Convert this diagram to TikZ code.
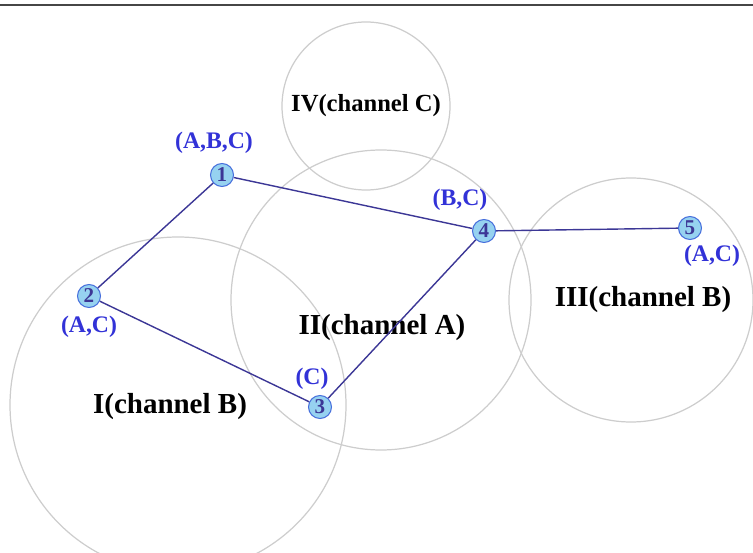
\documentclass[tikz,border=0pt]{standalone}
\usepackage{fontspec}
\setmainfont{Liberation Serif}
\begin{document}
\begin{tikzpicture}[x=0.02cm, y=-0.02cm,
  zone/.style={draw=zonegray, line width=0.7pt},
  zonelabel/.style={font=\fontsize{16.5}{18}\selectfont\bfseries, text=black},
  station/.style={circle, draw=stationblue, fill=stationfill, line width=0.6pt, minimum size=0.46cm, inner sep=0pt, font=\fontsize{12}{13}\selectfont\bfseries, text=linkblue},
  chanlabel/.style={font=\fontsize{13.5}{14}\selectfont\bfseries, text=labelblue},
  link/.style={draw=linkblue, line width=0.8pt}]

\definecolor{zonegray}{RGB}{205,205,205}
\definecolor{stationblue}{RGB}{70,110,220}
\definecolor{stationfill}{RGB}{150,210,240}
\definecolor{linkblue}{RGB}{60,55,150}
\definecolor{labelblue}{RGB}{50,50,215}
\definecolor{rulegray}{RGB}{70,70,70}

\useasboundingbox (0,0) rectangle (753,553);
\coordinate (ruleleft) at (0,5);
\coordinate (ruleright) at (753,5);
\draw[rulegray, line width=1.2pt] (ruleleft) -- (ruleright);

% interference zones
\draw[zone] (366,106) circle (84);
\draw[zone] (381,300) circle (150);
\draw[zone] (178,405) circle (168);
\draw[zone] (631,300) circle (122);

\node[zonelabel, font=\fontsize{14}{15}\selectfont\bfseries] (zoneIV) at (366,106) {IV(channel C)};
\node[zonelabel] (zoneII) at (382,328) {II(channel A)};
\node[zonelabel] (zoneIII) at (643,300) {III(channel B)};
\node[zonelabel] (zoneI) at (170,407) {I(channel B)};

% stations
\node[station] (s1) at (222,175) {1};
\node[station] (s2) at (89,296) {2};
\node[station] (s3) at (320,407) {3};
\node[station] (s4) at (484,231) {4};
\node[station] (s5) at (690,228) {5};

\draw[link] (s1) -- (s2);
\draw[link] (s1) -- (s4);
\draw[link] (s2) -- (s3);
\draw[link] (s3) -- (s4);
\draw[link] (s4) -- (s5);

\node[chanlabel] (c1) at (214,143) {(A,B,C)};
\node[chanlabel] (c2) at (89,327) {(A,C)};
\node[chanlabel] (c3) at (312,379) {(C)};
\node[chanlabel] (c4) at (460,200) {(B,C)};
\node[chanlabel] (c5) at (712,256) {(A,C)};

\end{tikzpicture}
\end{document}
